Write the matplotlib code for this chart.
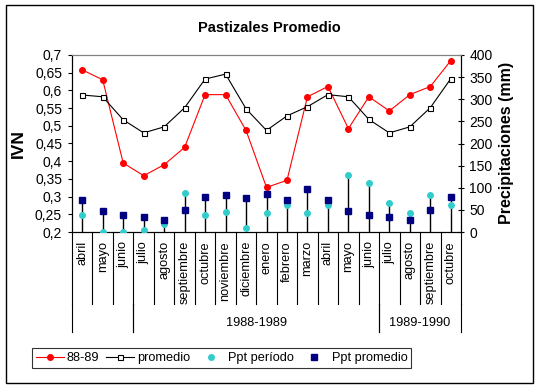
import numpy as np
import matplotlib
matplotlib.use("Agg")
import matplotlib.pyplot as plt
import matplotlib.transforms as mtransforms
from matplotlib.lines import Line2D
from matplotlib.patches import Rectangle

plt.rcParams['font.family'] = ['Liberation Sans', 'DejaVu Sans']

meses = ["abril", "mayo", "junio", "julio", "agosto", "septiembre", "octubre",
         "noviembre", "diciembre", "enero", "febrero", "marzo", "abril", "mayo",
         "junio", "julio", "agosto", "septiembre", "octubre"]

ivn_8889 = [0.658, 0.630, 0.395, 0.359, 0.390, 0.439, 0.588, 0.588, 0.487, 0.326,
            0.346, 0.582, 0.611, 0.492, 0.582, 0.542, 0.588, 0.611, 0.684]
ivn_prom = [0.587, 0.582, 0.517, 0.480, 0.497, 0.551, 0.632, 0.646, 0.548, 0.487,
            0.528, 0.554, 0.588, 0.582, 0.518, 0.480, 0.497, 0.551, 0.633]

ppt_periodo = [39, 0, 0, 4, 17, 89, 39, 46, 10, 44, 60, 44, 60, 129, 111, 65, 44, 84, 62]
ppt_prom = [73, 48, 38, 35, 28, 50, 80, 84, 77, 87, 73, 98, 73, 48, 38, 35, 28, 50, 80]

grupos = ["", "1988-1989", "1989-1990"]
grupo_ini = [0, 3, 15]
grupo_fin = [3, 15, 19]

ivn_ticks = [0.2, 0.25, 0.3, 0.35, 0.4, 0.45, 0.5, 0.55, 0.6, 0.65, 0.7]
ppt_ticks = [0, 50, 100, 150, 200, 250, 300, 350, 400]

W, H = 539, 388
fig = plt.figure(figsize=(W / 100, H / 100), dpi=100)

# pixel box of the plot area
x0, x1, y0, y1 = 72, 461, 55, 232
ax = fig.add_axes([x0 / W, 1 - y1 / H, (x1 - x0) / W, (y1 - y0) / H])
ax2 = ax.twinx()

x = np.arange(len(meses))

# drop lines for precipitation
for i in x:
    top = max(ppt_periodo[i], ppt_prom[i])
    ax2.plot([i, i], [0, top], color="black", lw=1, zorder=1)

ax.plot(x, ivn_8889, color="red", lw=0.8, marker="o", ms=4, mec="red", mfc="red", zorder=3)
ax.plot(x, ivn_prom, color="black", lw=0.8, marker="s", ms=3.6, mec="black", mfc="white", mew=0.8, zorder=3)
ax2.plot(x, ppt_periodo, ls="none", marker="o", ms=4, color="#33CCCC", zorder=3)
ax2.plot(x, ppt_prom, ls="none", marker="s", ms=3.8, color="#000080", zorder=3)

ax.set_xlim(-0.5, len(meses) - 0.5)
ax.set_ylim(0.2, 0.7)
ax2.set_ylim(0, 400)
ax.set_xticks([])

ax.set_yticks(ivn_ticks)
ax.set_yticklabels([("%g" % t).replace(".", ",") for t in ivn_ticks])
ax2.set_yticks(ppt_ticks)
ax2.set_yticklabels([str(t) for t in ppt_ticks])

ax.tick_params(axis="y", direction="out", length=3, width=0.8, pad=4.2, labelsize=10)
ax2.tick_params(axis="y", direction="inout", length=5, width=0.8, pad=3.5, labelsize=10)

for a in (ax, ax2):
    for s in a.spines.values():
        s.set_color("black")
        s.set_linewidth(0.8)
    a.spines["top"].set_color("#808080")
    a.patch.set_alpha(0)

# category labels and separators below the axis
trans = mtransforms.blended_transform_factory(ax.transData, ax.transAxes)
h_ax = y1 - y0
sep_low = -(304 - y1) / h_ax
grp_low = -(332 - y1) / h_ax
for i, m in enumerate(meses):
    ax.text(i, -(241 - y1) / h_ax, m, rotation=90, ha="center", va="top",
            fontsize=9.2, transform=trans)
for k in range(len(meses) + 1):
    ax.plot([k - 0.5, k - 0.5], [0, sep_low], color="black", lw=0.8,
            transform=trans, clip_on=False)
for g, a0, a1 in zip(grupos, grupo_ini, grupo_fin):
    for b in (a0, a1):
        ax.plot([b - 0.5, b - 0.5], [sep_low, grp_low], color="black", lw=0.8,
                transform=trans, clip_on=False)
    if g:
        ax.text((a0 + a1 - 1) / 2, -(323 - y1) / h_ax, g, ha="center", va="center",
                fontsize=9.2, transform=trans)

fig.text(269 / W, 1 - 27.6 / H, "Pastizales Promedio", ha="center", va="center",
         fontsize=10.5, fontweight="bold")
fig.text(18 / W, 1 - 143.5 / H, "IVN", rotation=90, ha="center", va="center",
         fontsize=12.5, fontweight="bold")
fig.text(507 / W, 1 - 143 / H, "Precipitaciones (mm)", rotation=90, ha="center",
         va="center", fontsize=11.5, fontweight="bold")

handles = [
    Line2D([], [], color="red", lw=0.8, marker="o", ms=4, mfc="red", mec="red"),
    Line2D([], [], color="black", lw=0.8, marker="s", ms=3.6, mfc="white", mec="black", mew=0.8),
    Line2D([], [], ls="none", marker="o", ms=4, color="#33CCCC"),
    Line2D([], [], ls="none", marker="s", ms=3.8, color="#000080"),
]
labels = ["88-89", "promedio", "Ppt período", "Ppt promedio"]
leg = fig.legend(handles, labels, loc="center", bbox_to_anchor=(221.5 / W, 1 - 358 / H),
                 ncol=4, fontsize=9.2, frameon=True, fancybox=False, handlelength=2.2,
                 handletextpad=0.25, columnspacing=0.5, borderpad=0.3, borderaxespad=0)
leg.get_frame().set_edgecolor("black")
leg.get_frame().set_linewidth(0.8)

fig.patches.append(Rectangle((5.5 / W, 1 - 383 / H), (533 - 5.5) / W, (383 - 5) / H,
                             transform=fig.transFigure, fill=False, ec="black", lw=1))

plt.savefig("out.png", dpi=100)
